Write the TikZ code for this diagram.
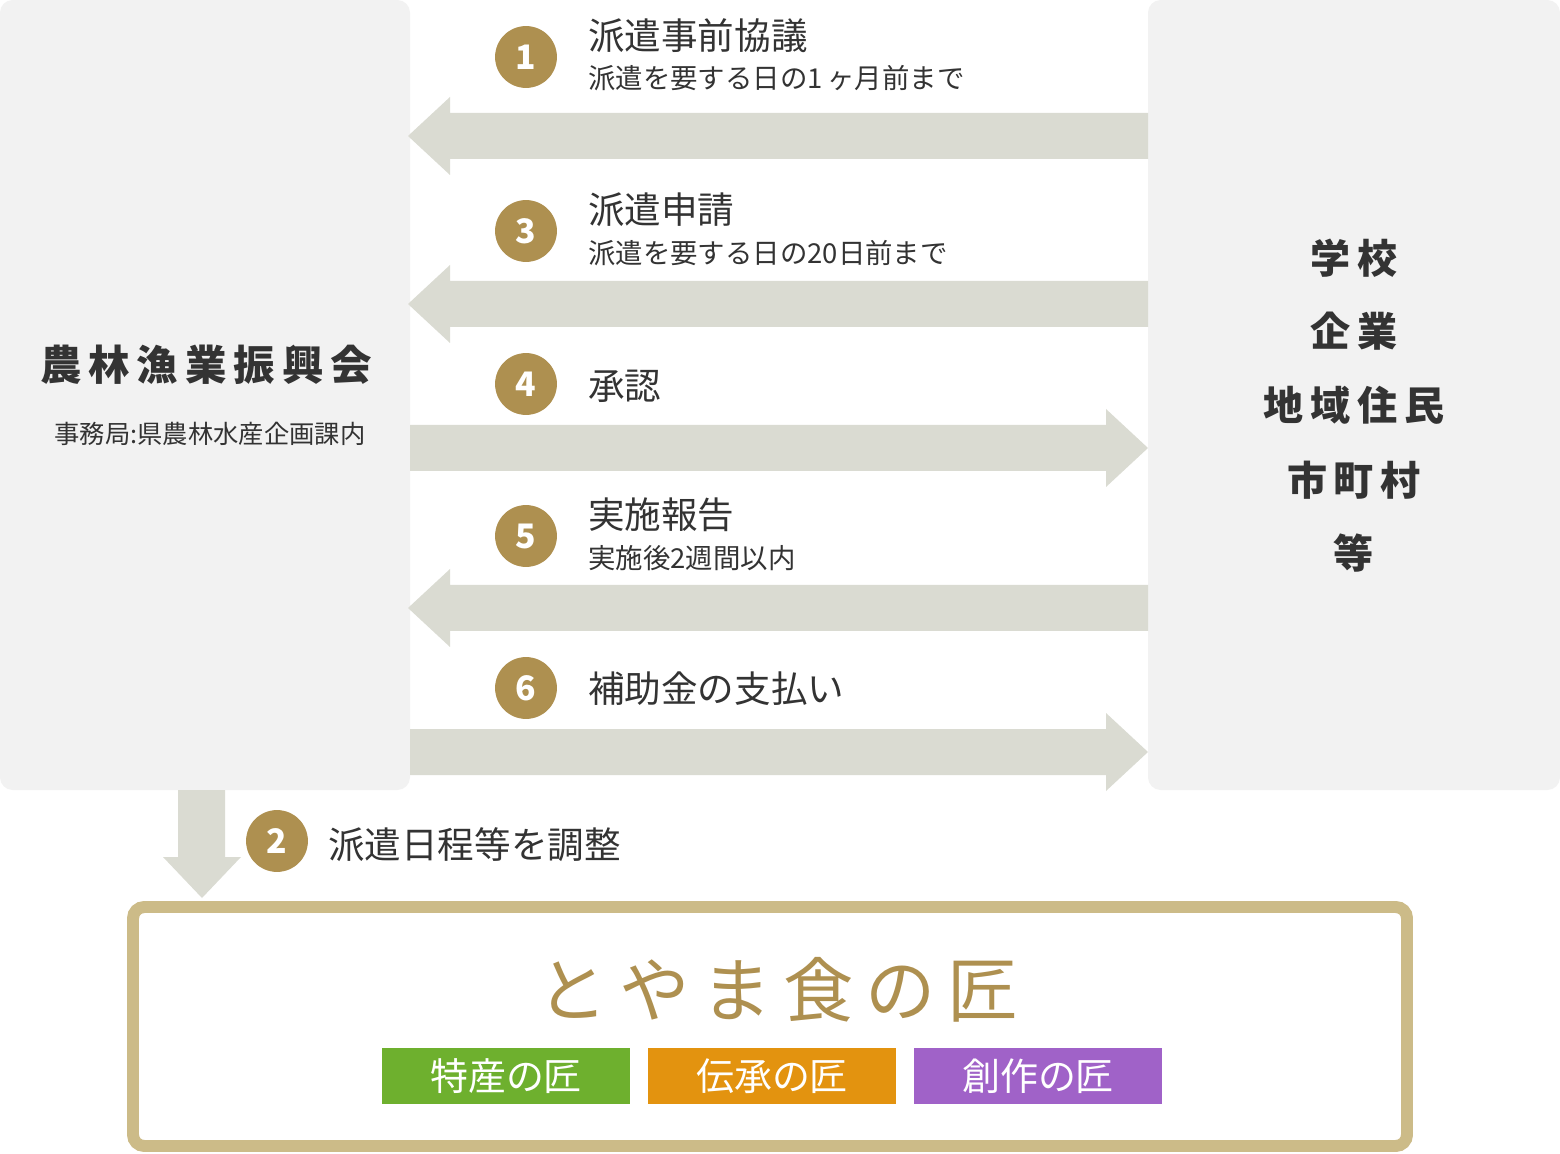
\documentclass[tikz,border=0pt]{standalone}
\usepackage{fontspec}
\setmainfont{Noto Sans CJK JP}
\usetikzlibrary{positioning}
\definecolor{panel}{HTML}{F2F2F2}
\definecolor{band}{HTML}{DADBD2}
\definecolor{gold}{HTML}{AE9050}
\definecolor{frame}{HTML}{CCBB88}
\definecolor{ink}{HTML}{333333}
\newcommand{\fs}[1]{\fontsize{#1}{#1}\selectfont}
\tikzset{
  panel/.style={fill=panel,draw=none,rounded corners=9pt},
  num/.style={circle,fill=gold,minimum size=44pt,inner sep=0pt,text=white,font=\fs{24pt}\bfseries},
  title/.style={anchor=west,text=ink,font=\fs{26pt},inner sep=0pt},
  sub/.style={anchor=west,text=ink,font=\fs{19.5pt},inner sep=0pt},
  party/.style={text=ink,font=\fs{28.5pt}\bfseries,inner sep=0pt},
  badge/.style={minimum width=177pt,minimum height=40pt,inner sep=0pt,text=white,font=\fs{27pt}},
}
\begin{document}
\begin{tikzpicture}[x=0.025cm,y=-0.025cm]
\useasboundingbox (0,0) rectangle (1560,1154);
% boxes
\fill[panel] (0,0) rectangle (410,790);
\fill[panel] (1148,0) rectangle (1560,790);
% flow arrows
\foreach \y in {136,304,608}
  \fill[band] (1148,\y-23) -- (450,\y-23) -- (450,\y-39) -- (408,\y) -- (450,\y+39) -- (450,\y+23) -- (1148,\y+23) -- cycle;
\foreach \y in {448,752}
  \fill[band] (410,\y-23) -- (1106,\y-23) -- (1106,\y-39) -- (1148,\y) -- (1106,\y+39) -- (1106,\y+23) -- (410,\y+23) -- cycle;
\fill[band] (178,790) -- (225,790) -- (225,857) -- (241,857) -- (202,898) -- (163,857) -- (178,857) -- cycle;
% left party
\node[party,font=\fs{29.5pt}\bfseries] (assoc) at (206,365) {農\,林\,漁\,業\,振\,興\,会};
\node[text=ink,font=\fs{18pt},inner sep=0pt] (office) at (210,434) {事務局:県農林水産企画課内};
% right party
\node[party] (school) at (1354,258) {学\,校};
\node[party] (firm) at (1354,331) {企\,業};
\node[party] (local) at (1354,405) {地\,域\,住\,民};
\node[party] (city) at (1354,480) {市\,町\,村};
\node[party] (etc) at (1354,553) {等};
% steps
\node[num] (n1) at (526,57) {1};
\node[title] (t1) at (588,36) {派遣事前協議};
\node[sub] (s1) at (588,78) {派遣を要する日の1\,ヶ月前まで};
\node[num] (n3) at (526,231) {3};
\node[title] (t3) at (588,210) {派遣申請};
\node[sub] (s3) at (588,253) {派遣を要する日の20日前まで};
\node[num] (n4) at (526,384) {4};
\node[title] (t4) at (588,386) {承認};
\node[num] (n5) at (526,536) {5};
\node[title] (t5) at (588,515) {実施報告};
\node[sub] (s5) at (588,558) {実施後2週間以内};
\node[num] (n6) at (526,688) {6};
\node[title] (t6) at (588,689) {補助金の支払い};
\node[num] (n2) at (277,841) {2};
\node[title] (t2) at (328,845) {派遣日程等を調整};
% craftsmen
\draw[frame,line width=8.5pt,rounded corners=8pt] (133,907) rectangle (1407,1146);
\node[text=gold,font=\fs{50pt}] (takumi) at (778,990) {と\,や\,ま\,食\,の\,匠};
\node[badge,fill={rgb,255:red,110;green,176;blue,46}] (b1) at (506,1076) {特産の匠};
\node[badge,fill={rgb,255:red,227;green,147;blue,15}] (b2) at (772,1076) {伝承の匠};
\node[badge,fill={rgb,255:red,160;green,98;blue,200}] (b3) at (1038,1076) {創作の匠};
\end{tikzpicture}
\end{document}
